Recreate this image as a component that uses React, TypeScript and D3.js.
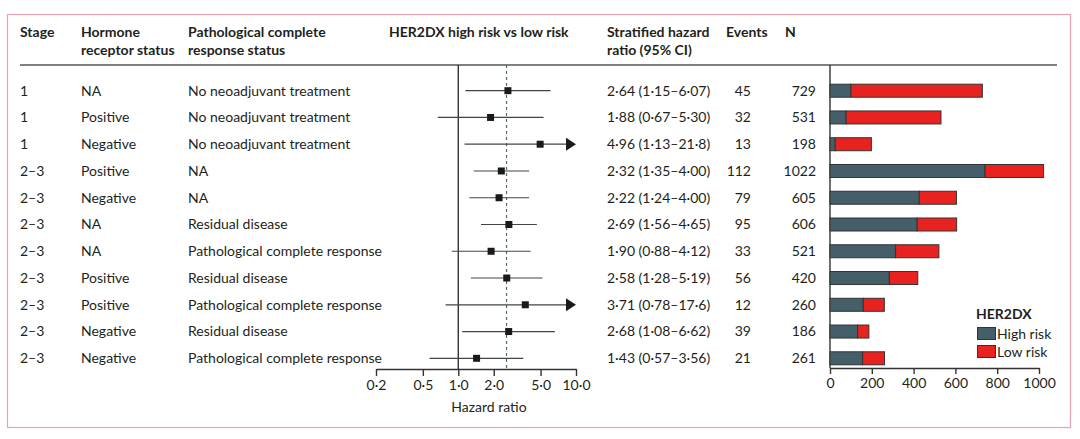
import * as d3 from "d3";
import { useEffect, useRef } from "react";

const stages = ["1", "1", "1", "2–3", "2–3", "2–3", "2–3", "2–3", "2–3", "2–3", "2–3"];
const hormone = ["NA", "Positive", "Negative", "Positive", "Negative", "NA", "NA", "Positive", "Positive", "Negative", "Negative"];
const pcrStatus = [
  "No neoadjuvant treatment",
  "No neoadjuvant treatment",
  "No neoadjuvant treatment",
  "NA",
  "NA",
  "Residual disease",
  "Pathological complete response",
  "Residual disease",
  "Pathological complete response",
  "Residual disease",
  "Pathological complete response",
];
const hazard = [2.64, 1.88, 4.96, 2.32, 2.22, 2.69, 1.9, 2.58, 3.71, 2.68, 1.43];
const ciLow = [1.15, 0.67, 1.13, 1.35, 1.24, 1.56, 0.88, 1.28, 0.78, 1.08, 0.57];
const ciHigh = [6.07, 5.3, 21.8, 4.0, 4.0, 4.65, 4.12, 5.19, 17.6, 6.62, 3.56];
const hrLabels = [
  "2·64 (1·15–6·07)",
  "1·88 (0·67–5·30)",
  "4·96 (1·13–21·8)",
  "2·32 (1·35–4·00)",
  "2·22 (1·24–4·00)",
  "2·69 (1·56–4·65)",
  "1·90 (0·88–4·12)",
  "2·58 (1·28–5·19)",
  "3·71 (0·78–17·6)",
  "2·68 (1·08–6·62)",
  "1·43 (0·57–3·56)",
];
const events = [45, 32, 13, 112, 79, 95, 33, 56, 12, 39, 21];
const totals = [729, 531, 198, 1022, 605, 606, 521, 420, 260, 186, 261];
const highRisk = [100, 77, 25, 742, 427, 417, 314, 284, 159, 132, 156];
const overallHR = 2.57;
const hrTicks = [0.2, 0.5, 1, 2, 5, 10];
const barTicks = [0, 200, 400, 600, 800, 1000];

const FONT = "Lato, 'Open Sans', sans-serif";
const INK = "#231f20";
const HIGH = "#455f6a";
const LOW = "#e8231f";
const FS = 14;

export default function App() {
  const hrAxisRef = useRef<SVGGElement | null>(null);
  const barAxisRef = useRef<SVGGElement | null>(null);

  const rows = d3.range(stages.length);
  const y = d3.scalePoint<number>().domain(rows).range([90.7, 358.3]);
  const xHR = d3.scaleLog().domain([0.2, 10]).range([376, 576]);
  const xBar = d3.scaleLinear().domain([0, 1000]).range([830, 1039]);
  const fmt = (d: number) => d3.format(".1f")(d).replace(".", "·");

  useEffect(() => {
    const style = (g: d3.Selection<SVGGElement, unknown, null, undefined>) => {
      g.select(".domain").attr("stroke", "#333").attr("stroke-width", 1.4);
      g.selectAll(".tick line").attr("stroke", "#333").attr("stroke-width", 1.4);
      g.selectAll(".tick text").attr("fill", INK).attr("font-size", FS).attr("font-family", FONT);
    };
    if (hrAxisRef.current) {
      const g = d3.select(hrAxisRef.current);
      g.selectAll("*").remove();
      g.call(
        d3
          .axisBottom(xHR)
          .tickValues(hrTicks)
          .tickFormat((d) => fmt(+d))
          .tickSize(7)
          .tickSizeOuter(0)
          .tickPadding(4),
      );
      style(g);
    }
    if (barAxisRef.current) {
      const g = d3.select(barAxisRef.current);
      g.selectAll("*").remove();
      g.call(
        d3
          .axisBottom(xBar)
          .tickValues(barTicks)
          .tickFormat(d3.format("d"))
          .tickSize(6)
          .tickSizeOuter(0)
          .tickPadding(4),
      );
      style(g);
    }
  }, []);

  const headers = [
    { x: 20, lines: ["Stage"] },
    { x: 81, lines: ["Hormone", "receptor status"] },
    { x: 188, lines: ["Pathological complete", "response status"] },
    { x: 389, lines: ["HER2DX high risk vs low risk"] },
    { x: 607, lines: ["Stratified hazard", "ratio (95% CI)"] },
    { x: 726, lines: ["Events"] },
    { x: 785, lines: ["N"] },
  ];

  return (
    <svg
      width={1080}
      height={439}
      style={{ position: "absolute", left: 0, top: 0, background: "#fff" }}
      fontFamily={FONT}
    >
      <rect x={7.5} y={14.5} width={1063} height={413} fill="none" stroke="#e7a5b3" strokeWidth={1.2} />

      {headers.map((h) =>
        h.lines.map((line, i) => (
          <text key={h.x + line} x={h.x} y={37 + i * 17.5} fontSize={FS} fontWeight={700} fill={INK}>
            {line}
          </text>
        )),
      )}
      <line x1={20} x2={1057} y1={65} y2={65} stroke="#808080" strokeWidth={2} />

      {rows.map((i) => {
        const cy = y(i)!;
        const base = cy + 4.8;
        return (
          <g key={i} fontSize={FS} fill={INK}>
            <text x={20} y={base}>{stages[i]}</text>
            <text x={81} y={base}>{hormone[i]}</text>
            <text x={188} y={base}>{pcrStatus[i]}</text>
            <text x={607} y={base}>{hrLabels[i]}</text>
            <text x={751} y={base} textAnchor="end">{events[i]}</text>
            <text x={816} y={base} textAnchor="end">{totals[i]}</text>
          </g>
        );
      })}

      {/* forest plot */}
      <line x1={xHR(1)} x2={xHR(1)} y1={65} y2={369} stroke="#333" strokeWidth={1.4} />
      <line
        x1={xHR(overallHR)}
        x2={xHR(overallHR)}
        y1={65}
        y2={369}
        stroke="#4f6b78"
        strokeWidth={1.2}
        strokeDasharray="3,3"
      />
      {rows.map((i) => {
        const cy = y(i)!;
        const clipped = ciHigh[i] > 10;
        const x2 = clipped ? xHR(10) - 9 : xHR(ciHigh[i]);
        return (
          <g key={"f" + i}>
            <line x1={xHR(ciLow[i])} x2={x2} y1={cy} y2={cy} stroke="#444" strokeWidth={1.2} />
            {clipped && (
              <path
                d={`M${xHR(10) - 10},${cy - 6.5}L${xHR(10)},${cy}L${xHR(10) - 10},${cy + 6.5}Z`}
                fill="#1a1a1a"
              />
            )}
            <rect x={xHR(hazard[i]) - 3.5} y={cy - 3.5} width={7} height={7} fill="#1a1a1a" />
          </g>
        );
      })}
      <g ref={hrAxisRef} transform="translate(0,369)" />
      <text x={489} y={412} fontSize={FS} textAnchor="middle" fill={INK}>
        Hazard ratio
      </text>

      {/* stacked bars */}
      <line x1={xBar(0)} x2={xBar(0)} y1={65} y2={368} stroke="#333" strokeWidth={1.4} />
      {rows.map((i) => {
        const cy = y(i)!;
        return (
          <g key={"b" + i} stroke="#333" strokeWidth={1}>
            <rect x={xBar(0)} y={cy - 6.5} width={xBar(highRisk[i]) - xBar(0)} height={13} fill={HIGH} />
            <rect
              x={xBar(highRisk[i])}
              y={cy - 6.5}
              width={xBar(totals[i]) - xBar(highRisk[i])}
              height={13}
              fill={LOW}
            />
          </g>
        );
      })}
      <g ref={barAxisRef} transform="translate(0,368)" />

      {/* legend */}
      <text x={976} y={319} fontSize={FS} fontWeight={700} fill={INK}>
        HER2DX
      </text>
      <rect x={977.5} y={327.5} width={18} height={12} fill={HIGH} stroke="#333" />
      <text x={997} y={338.5} fontSize={FS} fill={INK}>
        High risk
      </text>
      <rect x={977.5} y={345.5} width={18} height={12} fill={LOW} stroke="#333" />
      <text x={997} y={356.5} fontSize={FS} fill={INK}>
        Low risk
      </text>
    </svg>
  );
}
